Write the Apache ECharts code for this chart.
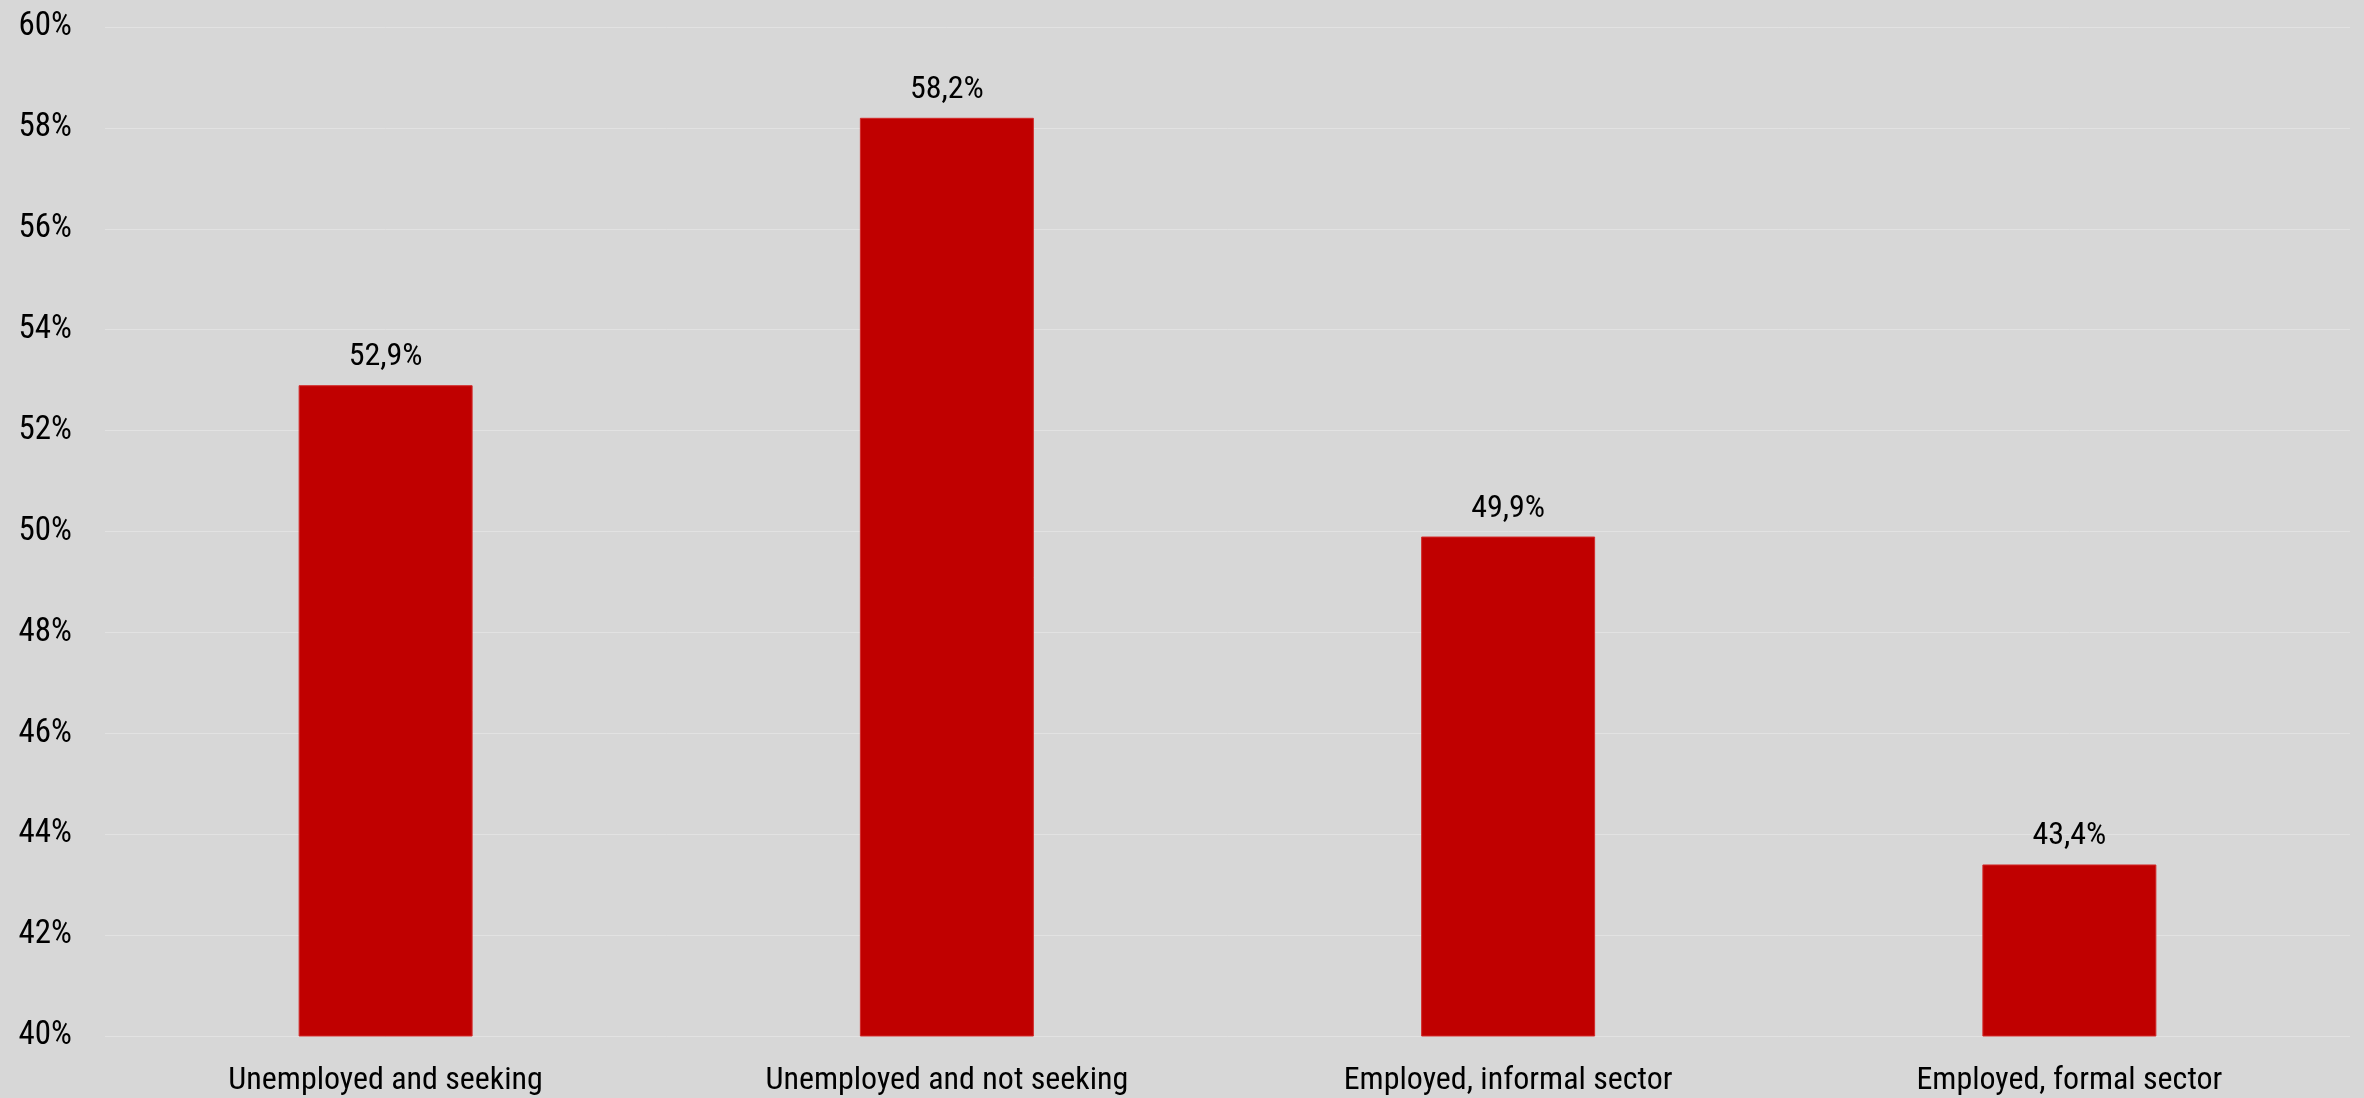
<!DOCTYPE html>
<html>
<head>
<meta charset="utf-8">
<script src="https://cdn.jsdelivr.net/npm/echarts@6/dist/echarts.min.js"></script>
<style>
html,body{margin:0;padding:0;background:#d7d7d7;}
#chart{width:2364px;height:1098px;}
</style>
</head>
<body>
<div id="chart"></div>
<script>
const categories = ["Unemployed and seeking", "Unemployed and not seeking", "Employed, informal sector", "Employed, formal sector"];
const values = [52.9, 58.2, 49.9, 43.4];
const yTicks = [40, 42, 44, 46, 48, 50, 52, 54, 56, 58, 60];

const FONT = "'Liberation Sans Narrow', 'Roboto Condensed', 'Arial Narrow', 'DejaVu Sans Condensed', sans-serif";
const chart = echarts.init(document.getElementById('chart'), null, {renderer: 'canvas'});
chart.setOption({
  backgroundColor: '#d7d7d7',
  animation: false,
  grid: {left: 105, right: 14, top: 27, bottom: 62, containLabel: false},
  xAxis: {
    type: 'category',
    data: categories,
    axisLine: {show: false},
    axisTick: {show: false},
    axisLabel: {color: '#000', fontFamily: FONT, fontSize: 32, margin: 29, interval: 0}
  },
  yAxis: {
    type: 'value',
    min: yTicks[0],
    max: yTicks[yTicks.length - 1],
    interval: 2,
    axisLine: {show: false},
    axisTick: {show: false},
    splitLine: {lineStyle: {color: '#e2e2e2', width: 1}},
    axisLabel: {color: '#000', fontFamily: FONT, fontSize: 33, margin: 33, formatter: '{value}%'}
  },
  series: [{
    type: 'bar',
    data: values,
    barWidth: '31%',
    itemStyle: {color: '#c00000', borderColor: '#d22a2a', borderWidth: 1},
    label: {
      show: true,
      position: 'top',
      distance: 12,
      color: '#000',
      fontFamily: FONT,
      fontSize: 32,
      formatter: p => p.value.toFixed(1).replace('.', ',') + '%'
    }
  }]
});
</script>
</body>
</html>
